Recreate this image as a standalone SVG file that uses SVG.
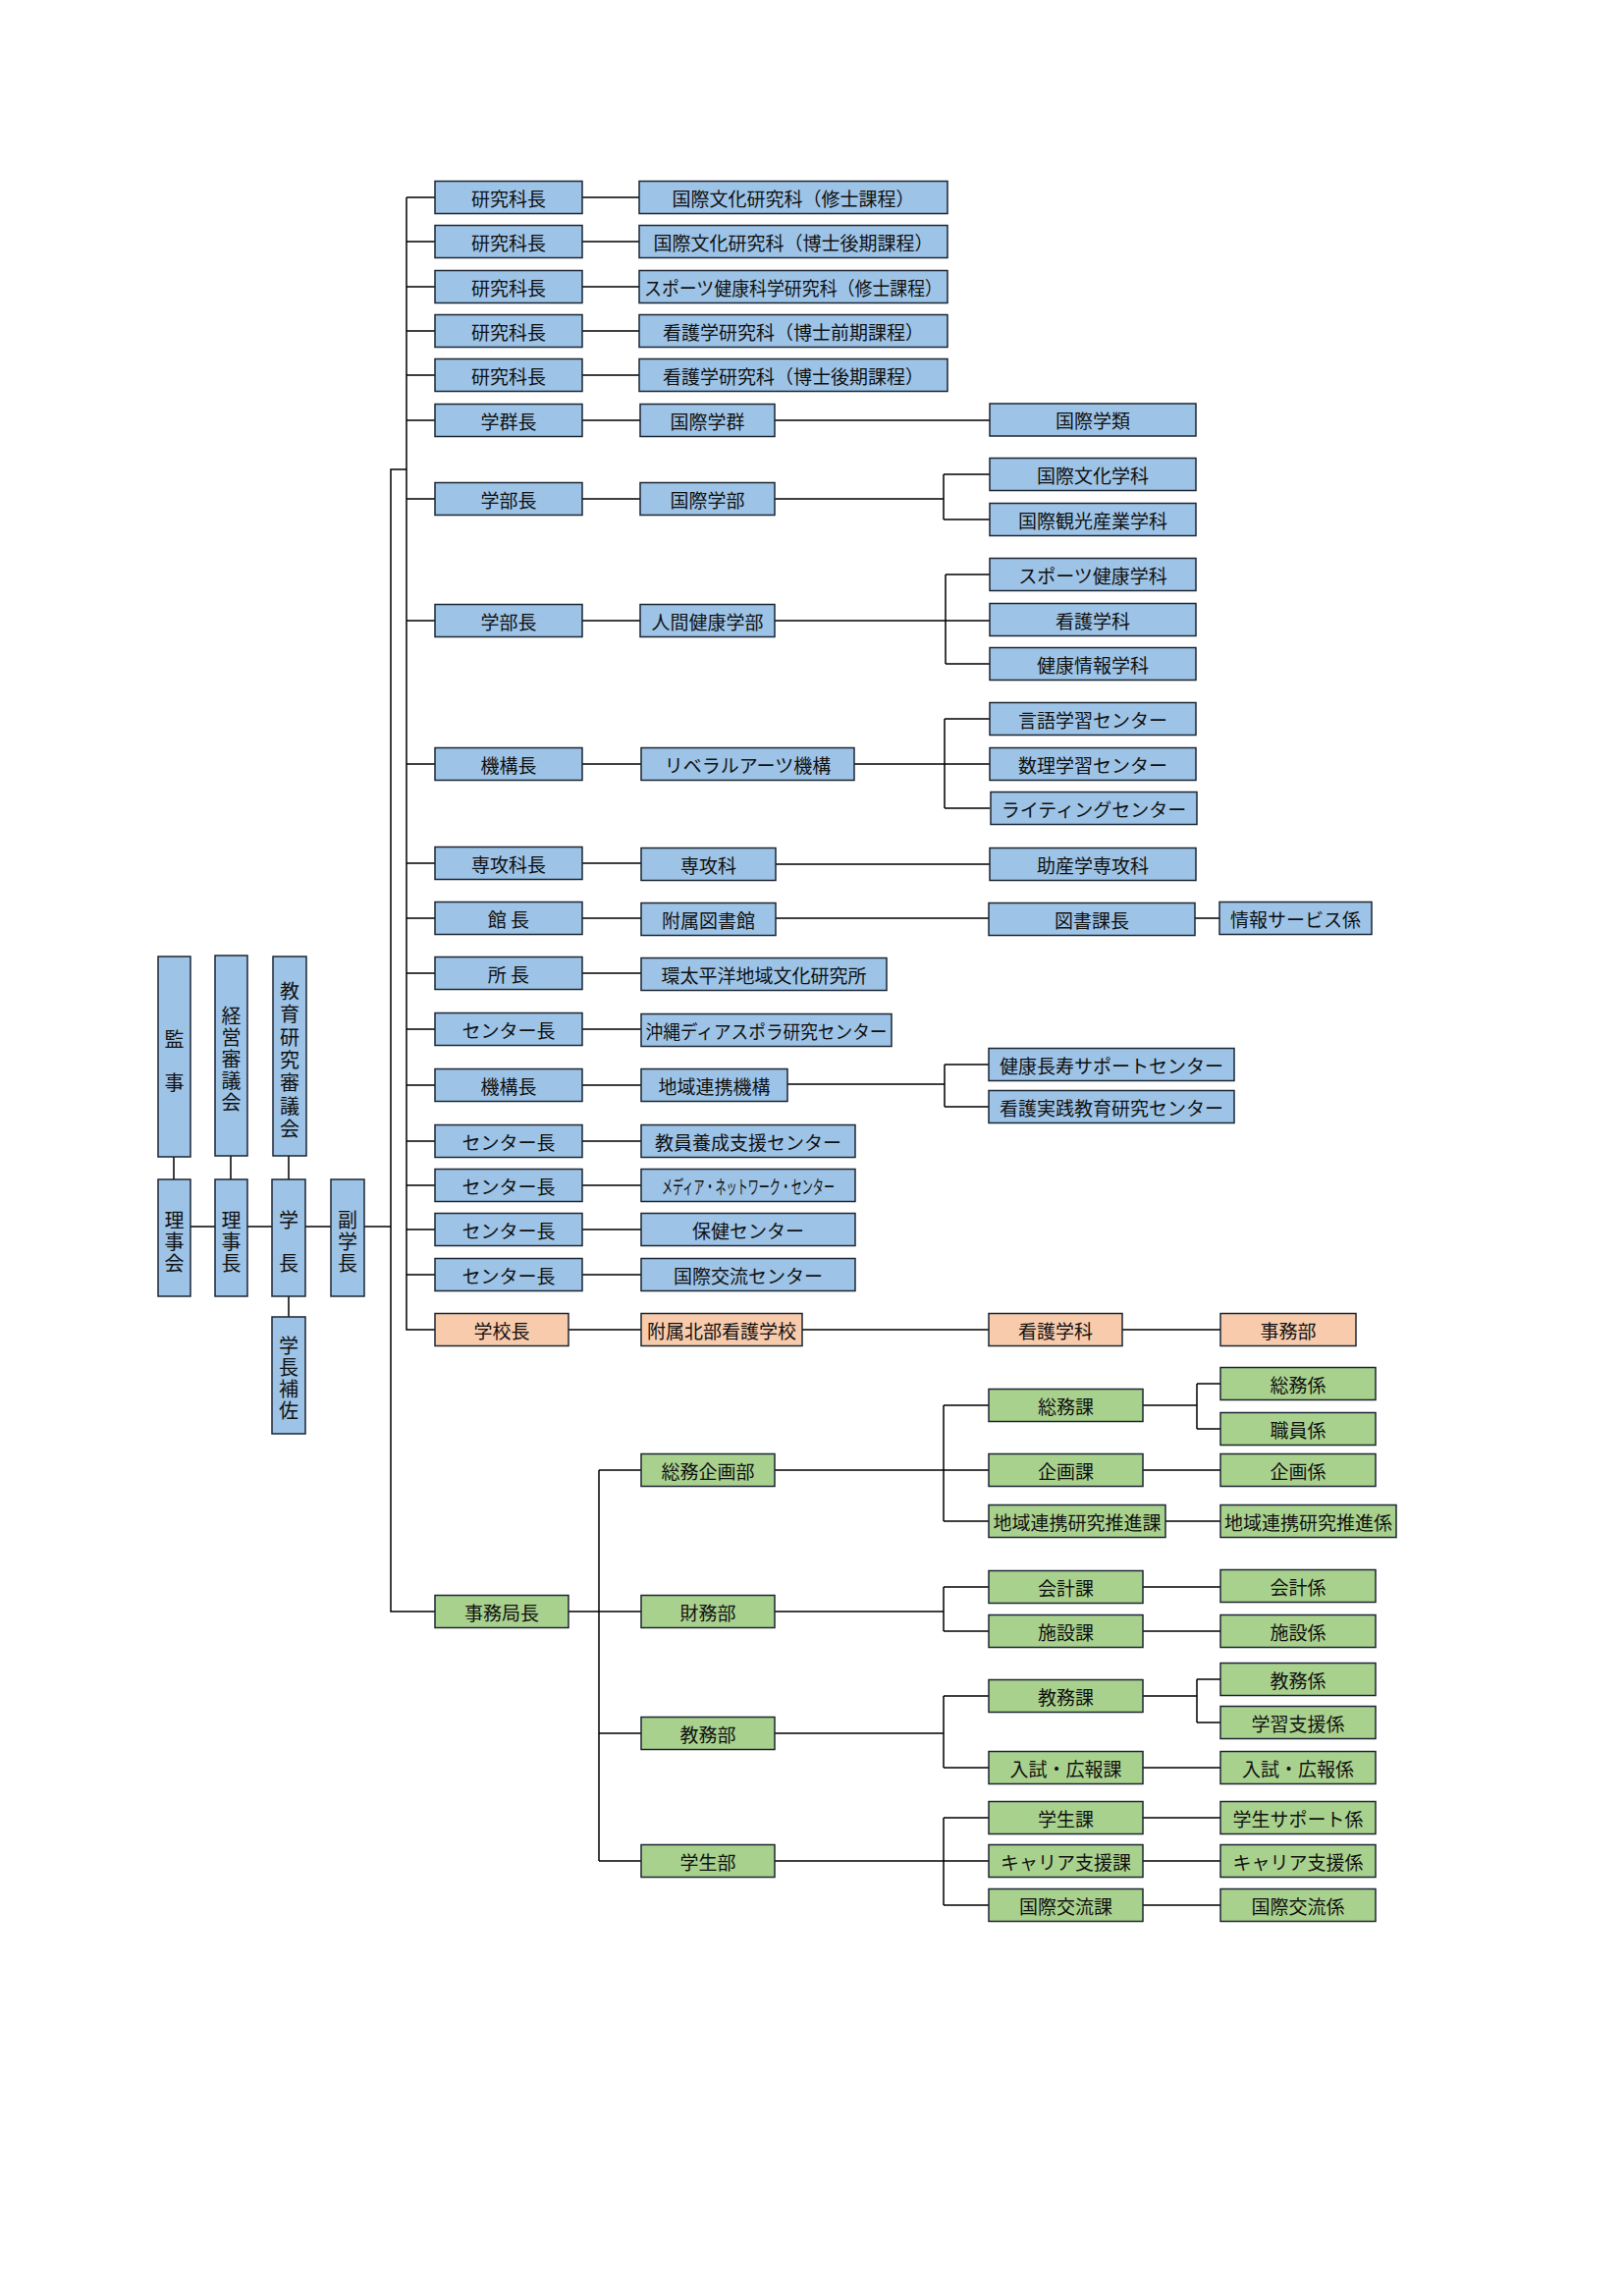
<svg xmlns="http://www.w3.org/2000/svg" width="1654" height="2338" viewBox="0 0 1654 2338">
<style>
rect{stroke:#1c2633;stroke-width:1.5}
.b rect{fill:#9DC3E6}
.o rect{fill:#F8CBAD}
.g rect{fill:#A9D18E}
text{font-family:"Noto Sans CJK JP","Noto Sans CJK SC",sans-serif;font-size:19px;fill:#111;text-anchor:middle;dominant-baseline:central}
text.v{font-size:20px;writing-mode:vertical-rl;letter-spacing:2px}
#connectors path{fill:none;stroke:#000;stroke-width:1.5}
</style>
<rect x="0" y="0" width="1654" height="2338" style="fill:#fff;stroke:none"/>
<g id="connectors">
<path d="M414 201 V1354 H443"/>
<path d="M414 201 H443 M414 246 H443 M414 292 H443 M414 337 H443 M414 382 H443 M414 428 H443 M414 508 H443 M414 632 H443 M414 778 H443 M414 879 H443 M414 935 H443 M414 991 H443 M414 1048 H443 M414 1105 H443 M414 1162 H443 M414 1207 H443 M414 1252 H443 M414 1298 H443"/>
<path d="M414 478 H398 V1641 H443"/>
<path d="M371 1249 H398"/>
<path d="M177 1178 V1201 M235 1177 V1201 M294 1177 V1201 M294 1320 V1341 M194 1249 H219 M252 1249 H277 M311 1249 H337"/>
<path d="M593 201 H651 M593 246 H651 M593 292 H651 M593 337 H651 M593 382 H651"/>
<path d="M593 428 H652 M789 428 H1008"/>
<path d="M593 508 H652 M789 508 H961 M961 483 V529 M961 483 H1008 M961 529 H1008"/>
<path d="M593 632 H652 M789 632 H1008 M963 585 V676 M963 585 H1008 M963 676 H1008"/>
<path d="M593 778 H653 M870 778 H1008 M962 732 V823 M962 732 H1008 M962 823 H1008"/>
<path d="M593 879 H653 M790 880 H1008"/>
<path d="M593 935 H653 M790 935 H1007 M1217 935 H1242"/>
<path d="M593 991 H653 M593 1048 H653"/>
<path d="M593 1105 H653 M802 1104 H962 M962 1084 V1127 M962 1084 H1007 M962 1127 H1007"/>
<path d="M593 1162 H653 M593 1207 H653 M593 1252 H653 M593 1298 H653"/>
<path d="M579 1354 H653 M817 1354 H1007 M1143 1354 H1243"/>
<path d="M579 1641 H653 M610 1497 V1895 M610 1497 H653 M610 1765 H653 M610 1895 H653"/>
<path d="M789 1497 H1007 M961 1431 V1549 M961 1431 H1007 M961 1549 H1007"/>
<path d="M1164 1431 H1219 M1219 1409 V1455 M1219 1409 H1243 M1219 1455 H1243 M1164 1497 H1243 M1187 1549 H1243"/>
<path d="M789 1641 H961 M961 1616 V1661 M961 1616 H1007 M961 1661 H1007 M1164 1616 H1243 M1164 1661 H1243"/>
<path d="M789 1765 H961 M961 1727 V1800 M961 1727 H1007 M961 1800 H1007 M1164 1727 H1219 M1219 1710 V1754 M1219 1710 H1243 M1219 1754 H1243 M1164 1800 H1243"/>
<path d="M789 1895 H1007 M961 1851 V1940 M961 1851 H1007 M961 1940 H1007 M1164 1851 H1243 M1164 1895 H1243 M1164 1940 H1243"/>
</g>

<g id="kanji" class="b"><rect x="161" y="974" width="33" height="204"/><text class="v" x="177.5" y="1081">監　事</text></g>
<g id="keiei" class="b"><rect x="219" y="973" width="33" height="204"/><text class="v" x="235.5" y="1079">経営審議会</text></g>
<g id="kyoiku" class="b"><rect x="278" y="974" width="34" height="203"/><text class="v" x="295" y="1081" style="letter-spacing:3.3px">教育研究審議会</text></g>
<g id="rijikai" class="b"><rect x="161" y="1201" width="33" height="119"/><text class="v" x="177.5" y="1265">理事会</text></g>
<g id="rijicho" class="b"><rect x="219" y="1201" width="33" height="119"/><text class="v" x="235.5" y="1265">理事長</text></g>
<g id="gakucho" class="b"><rect x="277" y="1201" width="34" height="119"/><text class="v" x="294" y="1265">学　長</text></g>
<g id="fukugakucho" class="b"><rect x="337" y="1201" width="34" height="119"/><text class="v" x="354" y="1265">副学長</text></g>
<g id="gakuchohosa" class="b"><rect x="277" y="1341" width="34" height="119"/><text class="v" x="294" y="1404">学長補佐</text></g>

<g id="r1a" class="b"><rect x="443" y="184.5" width="150" height="33"/><text x="518" y="201">研究科長</text></g>
<g id="r1b" class="b"><rect x="651" y="184.5" width="314" height="33"/><text x="808" y="201">国際文化研究科（修士課程）</text></g>
<g id="r2a" class="b"><rect x="443" y="229.5" width="150" height="33"/><text x="518" y="246">研究科長</text></g>
<g id="r2b" class="b"><rect x="651" y="229.5" width="314" height="33"/><text x="808" y="246">国際文化研究科（博士後期課程）</text></g>
<g id="r3a" class="b"><rect x="443" y="275.5" width="150" height="33"/><text x="518" y="292">研究科長</text></g>
<g id="r3b" class="b"><rect x="651" y="275.5" width="314" height="33"/><text x="808" y="292" textLength="304" lengthAdjust="spacingAndGlyphs">スポーツ健康科学研究科（修士課程）</text></g>
<g id="r4a" class="b"><rect x="443" y="320.5" width="150" height="33"/><text x="518" y="337">研究科長</text></g>
<g id="r4b" class="b"><rect x="651" y="320.5" width="314" height="33"/><text x="808" y="337">看護学研究科（博士前期課程）</text></g>
<g id="r5a" class="b"><rect x="443" y="365.5" width="150" height="33"/><text x="518" y="382">研究科長</text></g>
<g id="r5b" class="b"><rect x="651" y="365.5" width="314" height="33"/><text x="808" y="382">看護学研究科（博士後期課程）</text></g>

<g id="r6a" class="b"><rect x="443" y="411.5" width="150" height="33"/><text x="518" y="428">学群長</text></g>
<g id="r6b" class="b"><rect x="652" y="411.5" width="137" height="33"/><text x="720.5" y="428">国際学群</text></g>
<g id="r6c" class="b"><rect x="1008" y="411" width="210" height="33"/><text x="1113" y="427.5">国際学類</text></g>

<g id="r7a" class="b"><rect x="443" y="491.5" width="150" height="33"/><text x="518" y="508">学部長</text></g>
<g id="r7b" class="b"><rect x="652" y="491.5" width="137" height="33"/><text x="720.5" y="508">国際学部</text></g>
<g id="r7c" class="b"><rect x="1008" y="466.5" width="210" height="33"/><text x="1113" y="483">国際文化学科</text></g>
<g id="r7d" class="b"><rect x="1008" y="512.5" width="210" height="33"/><text x="1113" y="529">国際観光産業学科</text></g>

<g id="r8a" class="b"><rect x="443" y="615.5" width="150" height="33"/><text x="518" y="632">学部長</text></g>
<g id="r8b" class="b"><rect x="652" y="615.5" width="137" height="33"/><text x="720.5" y="632">人間健康学部</text></g>
<g id="r8c" class="b"><rect x="1008" y="568.5" width="210" height="33"/><text x="1113" y="585">スポーツ健康学科</text></g>
<g id="r8d" class="b"><rect x="1008" y="614.5" width="210" height="33"/><text x="1113" y="631">看護学科</text></g>
<g id="r8e" class="b"><rect x="1008" y="659.5" width="210" height="33"/><text x="1113" y="676">健康情報学科</text></g>

<g id="r9a" class="b"><rect x="443" y="761.5" width="150" height="33"/><text x="518" y="778">機構長</text></g>
<g id="r9b" class="b"><rect x="653" y="761.5" width="217" height="33"/><text x="761.5" y="778">リベラルアーツ機構</text></g>
<g id="r9c" class="b"><rect x="1008" y="715.5" width="210" height="33"/><text x="1113" y="732">言語学習センター</text></g>
<g id="r9d" class="b"><rect x="1008" y="761.5" width="210" height="33"/><text x="1113" y="778">数理学習センター</text></g>
<g id="r9e" class="b"><rect x="1009" y="806.5" width="210" height="33"/><text x="1114" y="823">ライティングセンター</text></g>

<g id="r10a" class="b"><rect x="443" y="862.5" width="150" height="33"/><text x="518" y="879">専攻科長</text></g>
<g id="r10b" class="b"><rect x="653" y="863.5" width="137" height="33"/><text x="721.5" y="880">専攻科</text></g>
<g id="r10c" class="b"><rect x="1008" y="863.5" width="210" height="33"/><text x="1113" y="880">助産学専攻科</text></g>

<g id="r11a" class="b"><rect x="443" y="918.5" width="150" height="33"/><text x="518" y="935">館 長</text></g>
<g id="r11b" class="b"><rect x="653" y="919.5" width="137" height="33"/><text x="721.5" y="936">附属図書館</text></g>
<g id="r11c" class="b"><rect x="1007" y="919.5" width="210" height="33"/><text x="1112" y="936">図書課長</text></g>
<g id="r11d" class="b"><rect x="1242" y="918.5" width="155" height="33"/><text x="1319.5" y="935">情報サービス係</text></g>

<g id="r12a" class="b"><rect x="443" y="974.5" width="150" height="33"/><text x="518" y="991">所 長</text></g>
<g id="r12b" class="b"><rect x="653" y="975.5" width="250" height="33"/><text x="778" y="992">環太平洋地域文化研究所</text></g>

<g id="r13a" class="b"><rect x="443" y="1031.5" width="150" height="33"/><text x="518" y="1048">センター長</text></g>
<g id="r13b" class="b"><rect x="653" y="1032.5" width="255" height="33"/><text x="780.5" y="1049" textLength="246" lengthAdjust="spacingAndGlyphs">沖縄ディアスポラ研究センター</text></g>

<g id="r14a" class="b"><rect x="443" y="1088.5" width="150" height="33"/><text x="518" y="1105">機構長</text></g>
<g id="r14b" class="b"><rect x="653" y="1088.5" width="149" height="33"/><text x="727.5" y="1105">地域連携機構</text></g>
<g id="r14c" class="b"><rect x="1007" y="1067.5" width="250" height="33"/><text x="1132" y="1084">健康長寿サポートセンター</text></g>
<g id="r14d" class="b"><rect x="1007" y="1110.5" width="250" height="33"/><text x="1132" y="1127">看護実践教育研究センター</text></g>

<g id="r15a" class="b"><rect x="443" y="1145.5" width="150" height="33"/><text x="518" y="1162">センター長</text></g>
<g id="r15b" class="b"><rect x="653" y="1145.5" width="218" height="33"/><text x="762" y="1162">教員養成支援センター</text></g>
<g id="r16a" class="b"><rect x="443" y="1190.5" width="150" height="33"/><text x="518" y="1207">センター長</text></g>
<g id="r16b" class="b"><rect x="653" y="1190.5" width="218" height="33"/><text x="762" y="1207" textLength="176" lengthAdjust="spacingAndGlyphs">メディア・ネットワーク・センター</text></g>
<g id="r17a" class="b"><rect x="443" y="1235.5" width="150" height="33"/><text x="518" y="1252">センター長</text></g>
<g id="r17b" class="b"><rect x="653" y="1235.5" width="218" height="33"/><text x="762" y="1252">保健センター</text></g>
<g id="r18a" class="b"><rect x="443" y="1281.5" width="150" height="33"/><text x="518" y="1298">センター長</text></g>
<g id="r18b" class="b"><rect x="653" y="1281.5" width="218" height="33"/><text x="762" y="1298">国際交流センター</text></g>

<g id="r19a" class="o"><rect x="443" y="1337.5" width="136" height="33"/><text x="511" y="1354">学校長</text></g>
<g id="r19b" class="o"><rect x="653" y="1337.5" width="164" height="33"/><text x="735" y="1354">附属北部看護学校</text></g>
<g id="r19c" class="o"><rect x="1007" y="1337.5" width="136" height="33"/><text x="1075" y="1354">看護学科</text></g>
<g id="r19d" class="o"><rect x="1243" y="1337.5" width="138" height="33"/><text x="1312" y="1354">事務部</text></g>

<g id="jimukyokucho" class="g"><rect x="443" y="1624.5" width="136" height="33"/><text x="511" y="1641">事務局長</text></g>
<g id="somukikaku" class="g"><rect x="653" y="1480.5" width="136" height="33"/><text x="721" y="1497">総務企画部</text></g>
<g id="zaimu" class="g"><rect x="653" y="1624.5" width="136" height="33"/><text x="721" y="1641">財務部</text></g>
<g id="kyomubu" class="g"><rect x="653" y="1748.5" width="136" height="33"/><text x="721" y="1765">教務部</text></g>
<g id="gakuseibu" class="g"><rect x="653" y="1878.5" width="136" height="33"/><text x="721" y="1895">学生部</text></g>

<g id="somuka" class="g"><rect x="1007" y="1414.5" width="157" height="33"/><text x="1085.5" y="1431">総務課</text></g>
<g id="kikakuka" class="g"><rect x="1007" y="1480.5" width="157" height="33"/><text x="1085.5" y="1497">企画課</text></g>
<g id="chiikika" class="g"><rect x="1007" y="1532.5" width="180" height="33"/><text x="1097" y="1549">地域連携研究推進課</text></g>
<g id="kaikeika" class="g"><rect x="1007" y="1599.5" width="157" height="33"/><text x="1085.5" y="1616">会計課</text></g>
<g id="shisetsuka" class="g"><rect x="1007" y="1644.5" width="157" height="33"/><text x="1085.5" y="1661">施設課</text></g>
<g id="kyomuka" class="g"><rect x="1007" y="1710.5" width="157" height="33"/><text x="1085.5" y="1727">教務課</text></g>
<g id="nyushika" class="g"><rect x="1007" y="1783.5" width="157" height="33"/><text x="1085.5" y="1800">入試・広報課</text></g>
<g id="gakuseika" class="g"><rect x="1007" y="1834.5" width="157" height="33"/><text x="1085.5" y="1851">学生課</text></g>
<g id="careerka" class="g"><rect x="1007" y="1878.5" width="157" height="33"/><text x="1085.5" y="1895">キャリア支援課</text></g>
<g id="kokusaika" class="g"><rect x="1007" y="1923.5" width="157" height="33"/><text x="1085.5" y="1940">国際交流課</text></g>

<g id="somukakari" class="g"><rect x="1243" y="1392.5" width="158" height="33"/><text x="1322" y="1409">総務係</text></g>
<g id="shokuinkakari" class="g"><rect x="1243" y="1438.5" width="158" height="33"/><text x="1322" y="1455">職員係</text></g>
<g id="kikakukakari" class="g"><rect x="1243" y="1480.5" width="158" height="33"/><text x="1322" y="1497">企画係</text></g>
<g id="chiikikakari" class="g"><rect x="1243" y="1532.5" width="179" height="33"/><text x="1332.5" y="1549">地域連携研究推進係</text></g>
<g id="kaikeikakari" class="g"><rect x="1243" y="1598.5" width="158" height="33"/><text x="1322" y="1615">会計係</text></g>
<g id="shisetsukakari" class="g"><rect x="1243" y="1644.5" width="158" height="33"/><text x="1322" y="1661">施設係</text></g>
<g id="kyomukakari" class="g"><rect x="1243" y="1693.5" width="158" height="33"/><text x="1322" y="1710">教務係</text></g>
<g id="gakushukakari" class="g"><rect x="1243" y="1737.5" width="158" height="33"/><text x="1322" y="1754">学習支援係</text></g>
<g id="nyushikakari" class="g"><rect x="1243" y="1783.5" width="158" height="33"/><text x="1322" y="1800">入試・広報係</text></g>
<g id="gakuseikakari" class="g"><rect x="1243" y="1834.5" width="158" height="33"/><text x="1322" y="1851">学生サポート係</text></g>
<g id="careerkakari" class="g"><rect x="1243" y="1878.5" width="158" height="33"/><text x="1322" y="1895">キャリア支援係</text></g>
<g id="kokusaikakari" class="g"><rect x="1243" y="1923.5" width="158" height="33"/><text x="1322" y="1940">国際交流係</text></g>
</svg>
